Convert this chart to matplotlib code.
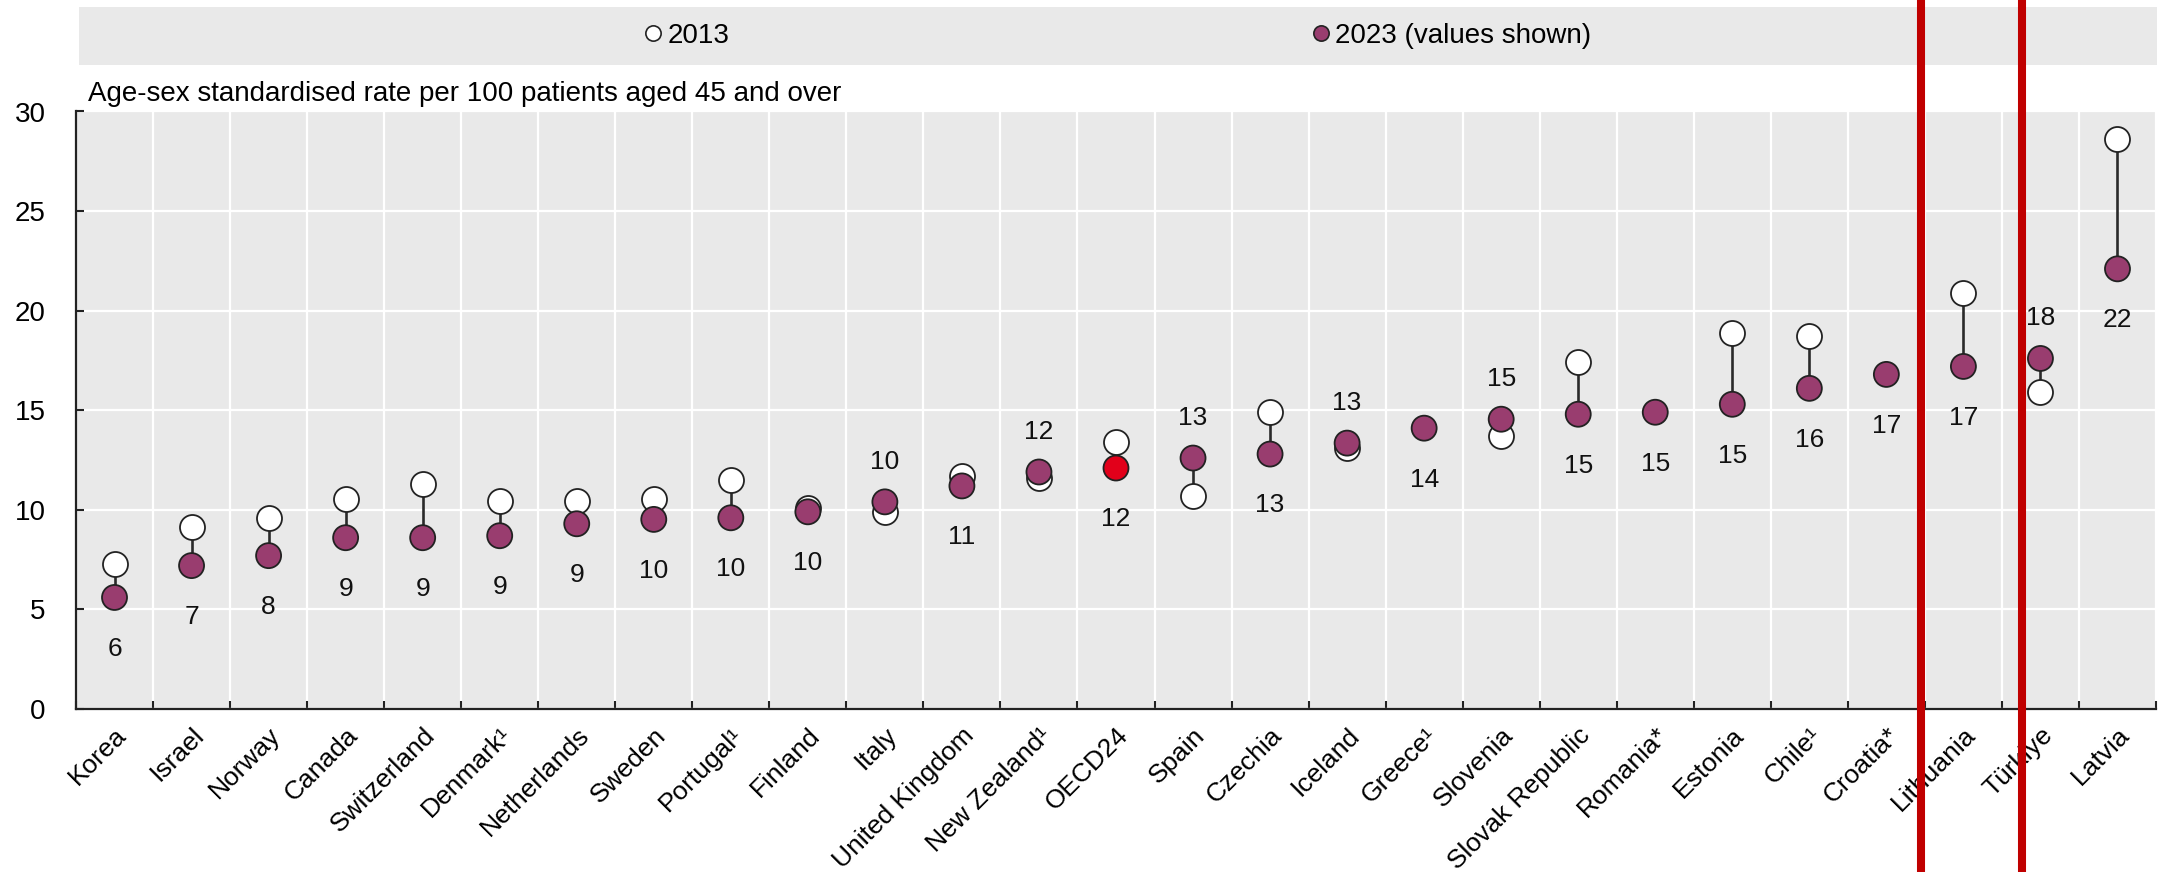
import numpy as np
import matplotlib
matplotlib.use('Agg')
import matplotlib.pyplot as plt
import matplotlib.transforms as mtransforms
from matplotlib.lines import Line2D

plt.rcParams['font.family'] = ['Liberation Sans', 'DejaVu Sans']

countries = ['Korea', 'Israel', 'Norway', 'Canada', 'Switzerland', 'Denmark\u00b9',
             'Netherlands', 'Sweden', 'Portugal\u00b9', 'Finland', 'Italy',
             'United Kingdom', 'New Zealand\u00b9', 'OECD24', 'Spain', 'Czechia',
             'Iceland', 'Greece\u00b9', 'Slovenia', 'Slovak Republic', 'Romania*',
             'Estonia', 'Chile\u00b9', 'Croatia*', 'Lithuania', 'Türkiye', 'Latvia']

v2013 = [7.3, 9.15, 9.6, 10.55, 11.3, 10.45, 10.45, 10.55, 11.5, 10.1, 9.9,
         11.7, 11.6, 13.4, 10.7, 14.9, 13.1, np.nan, 13.7, 17.4, np.nan,
         18.9, 18.75, np.nan, 20.9, 15.9, 28.6]

v2023 = [5.6, 7.2, 7.7, 8.6, 8.6, 8.7, 9.3, 9.52, 9.6, 9.9, 10.4,
         11.2, 11.9, 12.1, 12.6, 12.8, 13.35, 14.1, 14.55, 14.8, 14.9,
         15.3, 16.1, 16.8, 17.2, 17.6, 22.1]

# hand-drawn red marker lines in the reference (x in category units)
red_marks = [23.45, 24.76]

purple = '#993d6f'
oecd_red = '#e2001a'
grey_bg = '#e9e9e9'

W, H = 2164, 872
fig = plt.figure(figsize=(W / 100, H / 100), dpi=100)
ax = fig.add_axes([76 / W, 163 / H, 2080 / W, 597.5 / H])

x = np.arange(len(countries))
a = np.array(v2013, dtype=float)
b = np.array(v2023, dtype=float)

ax.set_facecolor(grey_bg)
ok = ~np.isnan(a)
ax.vlines(x[ok], np.minimum(a[ok], b[ok]), np.maximum(a[ok], b[ok]),
          color='#2a2a2a', lw=1.9, zorder=3)
ax.plot(x[ok], a[ok], 'o', ms=18, mfc='white', mec='#222222', mew=1.3,
        ls='none', zorder=4)
colors = [oecd_red if c == 'OECD24' else purple for c in countries]
ax.scatter(x, b, s=18 ** 2, c=colors, edgecolors='#222222', linewidths=1.3,
           zorder=5)

for i in range(len(x)):
    above = (not np.isnan(a[i])) and a[i] < b[i]
    ax.annotate(str(int(round(b[i]))), (x[i], b[i]),
                xytext=(0, 29 if above else -37), textcoords='offset points',
                ha='center', va='center', fontsize=19, color='#111111')

ax.set_xlim(-0.5, len(x) - 0.5)
ax.set_ylim(0, 30)
ax.set_yticks(np.arange(0, 31, 5))

ax.set_xticks(x)
ax.set_xticklabels(countries, rotation=45, ha='right', rotation_mode='anchor',
                   fontsize=19)
ax.tick_params(axis='x', which='major', length=0, pad=10)
ax.set_xticks(np.arange(-0.5, len(x), 1), minor=True)
ax.tick_params(axis='x', which='minor', direction='in', length=6, width=1.5,
               color='#222222')
ax.tick_params(axis='y', direction='in', length=6, width=1.5, color='#222222',
               pad=22, labelsize=20)

ax.grid(axis='x', which='minor', color='white', lw=1.6)
ax.grid(axis='y', which='major', color='white', lw=1.6)
ax.set_axisbelow(True)

for s in ['top', 'right']:
    ax.spines[s].set_visible(False)
for s in ['left', 'bottom']:
    ax.spines[s].set_color('#222222')
    ax.spines[s].set_linewidth(1.6)

# legend band on top
lax = fig.add_axes([79 / W, (H - 65) / H, 2078 / W, 58 / H])
lax.set_facecolor(grey_bg)
lax.set_xticks([])
lax.set_yticks([])
for s in lax.spines.values():
    s.set_visible(False)
handles = [Line2D([], [], marker='o', ls='none', ms=11, mfc='white',
                  mec='#222222', mew=1.2, label='2013'),
           Line2D([], [], marker='o', ls='none', ms=11, mfc=purple,
                  mec='#222222', mew=1.2, label='2023 (values shown)')]
lax.legend(handles=handles, loc='center', ncol=2, frameon=False, fontsize=20,
           handlelength=0.6, handletextpad=0.2, columnspacing=21)

fig.text(88 / W, 1 - 94 / H,
         'Age-sex standardised rate per 100 patients aged 45 and over',
         fontsize=20, ha='left', va='center')

trans = mtransforms.blended_transform_factory(ax.transData, fig.transFigure)
for xv in red_marks:
    fig.add_artist(Line2D([xv, xv], [0, 1], transform=trans, color='#c00000',
                          lw=5.8, zorder=10))

fig.savefig('out.png', dpi=100)
